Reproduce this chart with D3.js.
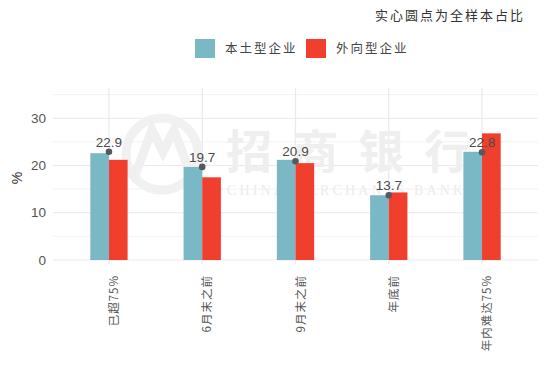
<!DOCTYPE html>
<html><head><meta charset="utf-8">
<script src="https://cdn.jsdelivr.net/npm/d3@7"></script>
<style>
html,body{margin:0;padding:0;background:#fff;}
svg{display:block;}
</style></head>
<body>
<svg id="c" width="550" height="370"></svg>
<script>
const categories = ["已超75%", "6月末之前", "9月末之前", "年底前", "年内难达75%"];
const seriesNames = ["本土型企业", "外向型企业"];
const domestic = [22.6, 19.7, 21.2, 13.7, 22.9];
const exporters = [21.2, 17.5, 20.5, 14.3, 26.8];
const totalShare = [22.9, 19.7, 20.9, 13.7, 22.8];
const yTicks = [0, 10, 20, 30];
const yMinor = [5, 15, 25, 35];
const colors = ["#7ab8c6", "#f03f2c"];

(function () {
const svg = d3.select("#c");
const pLeft = 53, pRight = 538, pTop = 88, pBottom = 260;

const x = d3.scalePoint().domain(categories).range([pLeft, pRight]).padding(0.6);
const step = x.step();
const y = d3.scaleLinear().domain([0, 36.4]).range([pBottom, pTop]);

// gridlines
const g = svg.append("g");
g.selectAll(".minor").data(yMinor).join("line")
  .attr("x1", pLeft).attr("x2", pRight)
  .attr("y1", d => y(d)).attr("y2", d => y(d))
  .attr("stroke", "#f2f2f2").attr("stroke-width", 1);
g.selectAll(".major").data(yTicks).join("line")
  .attr("x1", pLeft).attr("x2", pRight)
  .attr("y1", d => y(d)).attr("y2", d => y(d))
  .attr("stroke", "#e9e9e9").attr("stroke-width", 1.2);
g.selectAll(".vgrid").data(categories).join("line")
  .attr("x1", d => x(d)).attr("x2", d => x(d))
  .attr("y1", pTop).attr("y2", pBottom + 4)
  .attr("stroke", "#e9e9e9").attr("stroke-width", 1.2);

// watermark
const wm = svg.append("g");
wm.append("circle").attr("cx", 162).attr("cy", 154).attr("r", 36)
  .attr("fill", "none").attr("stroke", "#f1f1f1").attr("stroke-width", 9);
wm.append("path").attr("d", "M134,178 L152,130 L163,152 L174,130 L192,178")
  .attr("fill", "none").attr("stroke", "#f0f0f0").attr("stroke-width", 9);
wm.append("text").attr("x", 226).attr("y", 168)
  .attr("font-family", "Noto Sans CJK SC").attr("font-weight", "bold")
  .attr("font-size", 46).attr("letter-spacing", 20).attr("fill", "#efefef")
  .text("招商银行");
wm.append("text").attr("x", 227).attr("y", 195)
  .attr("font-family", "Liberation Serif").attr("font-size", 14)
  .attr("textLength", 236).attr("lengthAdjust", "spacing").attr("fill", "#ececec")
  .text("CHINA MERCHANTS BANK");

// bars
const bw = step * 0.2;
const series = [domestic, exporters];
series.forEach((vals, si) => {
  svg.append("g").selectAll("rect").data(categories).join("rect")
    .attr("x", (d) => x(d) - bw + si * bw)
    .attr("y", (d, i) => y(vals[i]))
    .attr("width", bw)
    .attr("height", (d, i) => y(0) - y(vals[i]))
    .attr("fill", colors[si]);
});

// dots and labels
svg.append("g").selectAll("circle").data(categories).join("circle")
  .attr("cx", d => x(d)).attr("cy", (d, i) => y(totalShare[i]))
  .attr("r", 3.3).attr("fill", "#555a5e");
svg.append("g").selectAll("text").data(categories).join("text")
  .attr("x", d => x(d)).attr("y", (d, i) => y(totalShare[i]) - 5)
  .attr("text-anchor", "middle")
  .attr("font-family", "Liberation Sans, Arial, sans-serif")
  .attr("font-size", 13.5).attr("fill", "#4a4a4a")
  .text((d, i) => totalShare[i].toFixed(1));

// y axis labels
svg.append("g").selectAll("text").data(yTicks).join("text")
  .attr("x", 46).attr("y", d => y(d)).attr("dy", "0.35em")
  .attr("text-anchor", "end")
  .attr("font-family", "Liberation Sans, Arial, sans-serif")
  .attr("font-size", 13.5).attr("fill", "#555")
  .text(d => d);
svg.append("text")
  .attr("transform", "translate(22,178) rotate(-90)")
  .attr("text-anchor", "middle")
  .attr("font-family", "Liberation Sans, Arial, sans-serif")
  .attr("font-size", 14).attr("fill", "#333")
  .text("%");

// x axis labels
svg.append("g").selectAll("text").data(categories).join("text")
  .attr("transform", d => `translate(${x(d) + 5},275) rotate(-90)`)
  .attr("text-anchor", "end").attr("dy", "0.35em")
  .attr("font-family", "Noto Sans CJK SC")
  .attr("font-size", 11.5).attr("letter-spacing", 1).attr("fill", "#555")
  .text(d => d);

// legend
const lg = svg.append("g");
const legendX = [195, 306];
seriesNames.forEach((n, i) => {
  lg.append("rect").attr("x", legendX[i]).attr("y", 39).attr("width", 20).attr("height", 19)
    .attr("fill", colors[i]);
  lg.append("text").attr("x", legendX[i] + 30).attr("y", 49).attr("dy", "0.35em")
    .attr("font-family", "Noto Sans CJK SC").attr("font-size", 12.5)
    .attr("letter-spacing", 2).attr("fill", "#444").text(n);
});

// note
svg.append("text").attr("x", 525).attr("y", 15).attr("dy", "0.35em")
  .attr("text-anchor", "end")
  .attr("font-family", "Noto Sans CJK SC").attr("font-size", 13)
  .attr("letter-spacing", 2).attr("fill", "#333")
  .text("实心圆点为全样本占比");
})();
</script>
</body></html>
